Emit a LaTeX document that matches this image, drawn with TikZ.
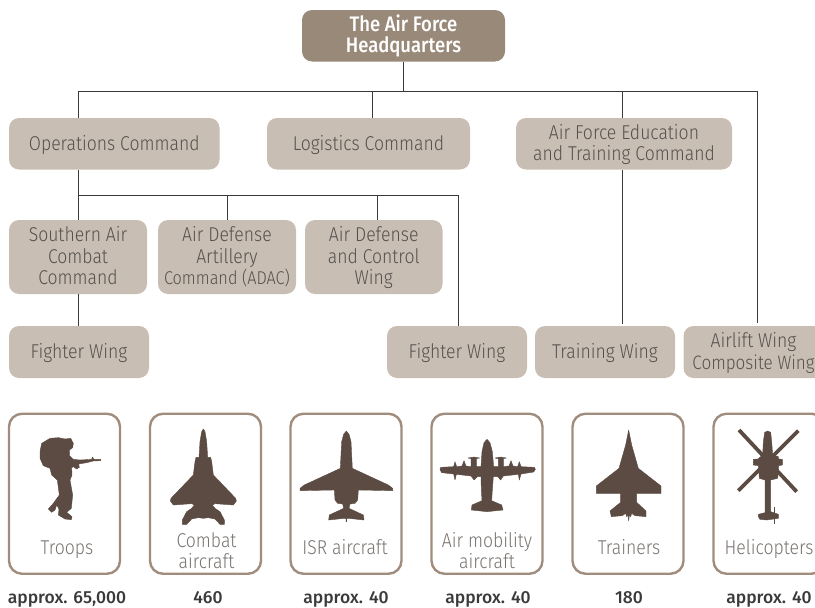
\documentclass[tikz,border=0pt]{standalone}
\usepackage{fontspec}
\setmainfont{Fira Sans Light}[FakeStretch=0.88,BoldFont={Fira Sans Medium},BoldFeatures={FakeStretch=0.88}]
\newfontfamily\countfont{Fira Sans Medium}
\definecolor{hqbrown}{HTML}{998979}
\definecolor{boxtan}{HTML}{C9BEB3}
\definecolor{framebrown}{HTML}{A08D7E}
\definecolor{iconbrown}{HTML}{5C4B42}
\definecolor{boxtext}{HTML}{55514D}
\definecolor{cardtext}{HTML}{77736F}
\definecolor{linegrey}{HTML}{3A3A3A}
\tikzset{
  hqbox/.style={fill=hqbrown,text=white,rounded corners=10pt,inner sep=0pt,align=center,font=\fontsize{21}{21}\selectfont\bfseries},
  unitbox/.style={fill=boxtan,text=boxtext,rounded corners=10pt,inner sep=0pt,align=center,text depth=2.5pt,font=\fontsize{20}{21.5}\selectfont},
  cardbox/.style={draw=framebrown,line width=2.4pt,rounded corners=13pt,minimum width=111pt,minimum height=160pt,inner sep=0pt},
  cardlabel/.style={text=cardtext,align=center,inner sep=0pt,font=\fontsize{20}{21}\selectfont},
  countlabel/.style={text=linegrey,inner sep=0pt,anchor=base,font=\fontsize{17.5}{20}\selectfont\countfont},
  link/.style={draw=linegrey,line width=0.8pt},
  icon/.style={fill=iconbrown,draw=iconbrown,line width=0.4pt,line join=round},
}
\begin{document}
\begin{tikzpicture}[x=1pt,y=-1pt]
	\useasboundingbox (0,0) rectangle (815,608);
	% bus coordinates
	\coordinate (hqbus) at (403.5,91);
	\coordinate (opsbus) at (78,91);
	\coordinate (logbus) at (372,91);
	\coordinate (edubus) at (622.3,91);
	\coordinate (airbus) at (757,91);
	\coordinate (opsdrop) at (78,195);
	\coordinate (adacdrop) at (227.5,195);
	\coordinate (adcwdrop) at (377.5,195);
	\coordinate (fwdrop) at (458.5,195);
	% command boxes
	\node[hqbox,minimum width=203pt,minimum height=51.5pt] (hq) at (403.5,35.75) {The Air Force\\Headquarters};
	\node[unitbox,minimum width=210.5pt,minimum height=51.5pt] (ops) at (114.25,143.75) {Operations Command};
	\node[unitbox,minimum width=203pt,minimum height=51.5pt] (log) at (368.5,143.75) {Logistics Command};
	\node[unitbox,minimum width=216pt,minimum height=51.5pt] (edu) at (624,143.75) {Air Force Education\\and Training Command};
	\node[unitbox,minimum width=138pt,minimum height=74pt] (sacc) at (78,257) {Southern Air\\Combat\\Command};
	\node[unitbox,minimum width=138pt,minimum height=74pt] (adac) at (227,257) {Air Defense\\Artillery\\{\fontsize{18.5}{21.5}\selectfont Command (ADAC)}};
	\node[unitbox,minimum width=137.5pt,minimum height=74pt] (adcw) at (373.75,257) {Air Defense\\and Control\\Wing};
	\node[unitbox,minimum width=140pt,minimum height=52pt] (fwa) at (79,352) {Fighter Wing};
	\node[unitbox,minimum width=140pt,minimum height=52pt] (fwb) at (457,352) {Fighter Wing};
	\node[unitbox,minimum width=140pt,minimum height=52pt] (tw) at (605,352) {Training Wing};
	\node[unitbox,minimum width=140pt,minimum height=52pt] (alw) at (753.5,352) {Airlift Wing\\{\fontsize{19.4}{21.5}\selectfont Composite Wing}};
	% connectors
	\draw[link] (hq.south) -- (hqbus);
	\draw[link] (opsbus |- ops.north) -- (opsbus) -- (airbus) -- ([yshift=3pt]airbus |- alw.north);
	\draw[link] (logbus) -- (logbus |- log.north);
	\draw[link] (edubus) -- (edubus |- edu.north);
	\draw[link] (edubus |- edu.south) -- ([yshift=2pt]edubus |- tw.north);
	\draw[link] (opsdrop |- ops.south) -- (opsdrop |- sacc.north);
	\draw[link] (opsdrop) -- (fwdrop) -- (fwdrop |- fwb.north);
	\draw[link] (adacdrop) -- (adacdrop |- adac.north);
	\draw[link] (adcwdrop) -- (adcwdrop |- adcw.north);
	\draw[link] (opsdrop |- sacc.south) -- (opsdrop |- fwa.north);
	% cards
	\node[cardbox] (troops) at (64.5,493.75) {};
	\node[cardbox] (combat) at (205.5,493.75) {};
	\node[cardbox] (isr) at (346,493.75) {};
	\node[cardbox] (mobility) at (487,493.75) {};
	\node[cardbox] (trainers) at (628,493.75) {};
	\node[cardbox] (heli) at (769,493.75) {};
	\node[cardlabel,anchor=base] (troopstext) at (67,554) {Troops};
	\node[cardlabel] (combattext) at (206.5,551) {Combat\\aircraft};
	\node[cardlabel,anchor=base] (isrtext) at (345,554) {ISR aircraft};
	\node[cardlabel] (mobilitytext) at (487,551) {Air mobility\\aircraft};
	\node[cardlabel,anchor=base] (trainerstext) at (629,554) {Trainers};
	\node[cardlabel,anchor=base] (helitext) at (769,554) {Helicopters};
	\node[countlabel] (troopscount) at (67,603.5) {approx. 65,000};
	\node[countlabel] (combatcount) at (208,603.5) {460};
	\node[countlabel] (isrcount) at (346,603.5) {approx. 40};
	\node[countlabel] (mobilitycount) at (488,603.5) {approx. 40};
	\node[countlabel] (trainerscount) at (629,603.5) {180};
	\node[countlabel] (helicount) at (769,603.5) {approx. 40};
	% silhouettes, traced at 3x
	\begin{scope}[shift={(30,425)},scale=1/3]
		\fill[icon] (60,40) -- (85,38) -- (105,42) -- (122,40) -- (130,55) -- (128,68) -- (118,75) -- (118,92) -- (130,103) -- (150,105) -- (185,103) -- (187,96) -- (192,103) -- (212,103) -- (212,107) -- (190,108) -- (170,113) -- (146,117) -- (148,127) -- (140,132) -- (130,125) -- (125,128) -- (126,150) -- (120,165) -- (128,210) -- (124,250) -- (110,262) -- (126,275) -- (124,284) -- (105,282) -- (85,270) -- (87,252) -- (80,240) -- (75,255) -- (65,262) -- (55,252) -- (70,235) -- (88,210) -- (82,165) -- (65,150) -- (60,130) -- (40,122) -- (30,100) -- (30,80) -- (35,55) -- cycle;
	\end{scope}
	\begin{scope}[shift={(165,425)},scale=1/3]
		\fill[icon] (115,12) -- (120,20) -- (125,50) -- (128,97) -- (137,97) -- (140,110) -- (145,150) -- (212,220) -- (214,228) -- (205,240) -- (150,236) -- (142,240) -- (150,250) -- (165,260) -- (178,285) -- (178,298) -- (165,298) -- (150,282) -- (130,278) -- (115,280) -- (100,278) -- (80,282) -- (65,298) -- (52,298) -- (52,285) -- (65,260) -- (80,250) -- (88,240) -- (80,236) -- (25,240) -- (16,228) -- (18,220) -- (85,150) -- (90,110) -- (93,97) -- (102,97) -- (105,50) -- (110,20) -- cycle;
	\end{scope}
	\begin{scope}[shift={(295,425)},scale=1/3]
		\fill[icon] (154,18) -- (162,28) -- (168,50) -- (172,130) -- (280,180) -- (293,190) -- (293,197) -- (190,195) -- (188,225) -- (180,235) -- (165,237) -- (162,250) -- (205,270) -- (207,285) -- (160,280) -- (155,280) -- (155,290) -- (153,290) -- (153,280) -- (148,280) -- (101,285) -- (103,270) -- (146,250) -- (143,237) -- (128,235) -- (120,225) -- (118,195) -- (15,197) -- (15,190) -- (28,180) -- (136,130) -- (140,50) -- (146,28) -- cycle;
	\end{scope}
	\begin{scope}[shift={(435,430)},scale=1/3]
		\fill[icon] (156,28) -- (165,38) -- (172,65) -- (176,110) -- (190,110) -- (190,86) -- (180,84) -- (197,81) -- (214,84) -- (205,86) -- (205,110) -- (222,108) -- (228,92) -- (234,108) -- (248,110) -- (253,95) -- (258,110) -- (298,112) -- (301,118) -- (296,126) -- (258,132) -- (253,150) -- (250,133) -- (205,138) -- (197,150) -- (188,140) -- (175,140) -- (172,180) -- (170,212) -- (200,225) -- (204,240) -- (156,245) -- (109,240) -- (111,225) -- (141,212) -- (139,180) -- (138,140) -- (127,140) -- (117,150) -- (108,138) -- (64,133) -- (60,150) -- (56,132) -- (20,128) -- (15,118) -- (17,112) -- (56,110) -- (60,95) -- (65,110) -- (81,108) -- (87,92) -- (93,108) -- (108,110) -- (108,86) -- (99,84) -- (117,81) -- (134,84) -- (124,86) -- (124,110) -- (138,110) -- (141,65) -- (147,38) -- cycle;
	\end{scope}
	\begin{scope}[shift={(590,425)},scale=1/3]
		\fill[icon] (116,15) -- (125,60) -- (145,130) -- (213,183) -- (213,205) -- (140,205) -- (140,232) -- (168,258) -- (168,275) -- (135,272) -- (125,265) -- (122,275) -- (118,270) -- (116,288) -- (114,270) -- (110,275) -- (107,265) -- (97,272) -- (64,275) -- (60,258) -- (92,232) -- (92,205) -- (19,205) -- (19,183) -- (87,130) -- (107,60) -- cycle;
	\end{scope}
	\begin{scope}[shift={(730,425)},scale=1/3]
		\draw[draw=iconbrown,line width=3.8pt] (27,15) -- (200,200);
		\draw[draw=iconbrown,line width=3.8pt] (205,17) -- (25,197);
		\draw[draw=iconbrown,line width=1pt] (133,245) -- (133,298);
		\fill[icon] (113,18) -- (122,22) -- (125,50) -- (128,90) -- (145,95) -- (146,102) -- (157,103) -- (157,120) -- (146,122) -- (143,160) -- (122,165) -- (122,260) -- (145,268) -- (145,280) -- (110,285) -- (90,283) -- (85,275) -- (85,268) -- (105,263) -- (105,165) -- (88,160) -- (85,122) -- (70,120) -- (70,103) -- (84,102) -- (98,90) -- (100,50) -- (104,22) -- cycle;
	\end{scope}
\end{tikzpicture}
\end{document}
